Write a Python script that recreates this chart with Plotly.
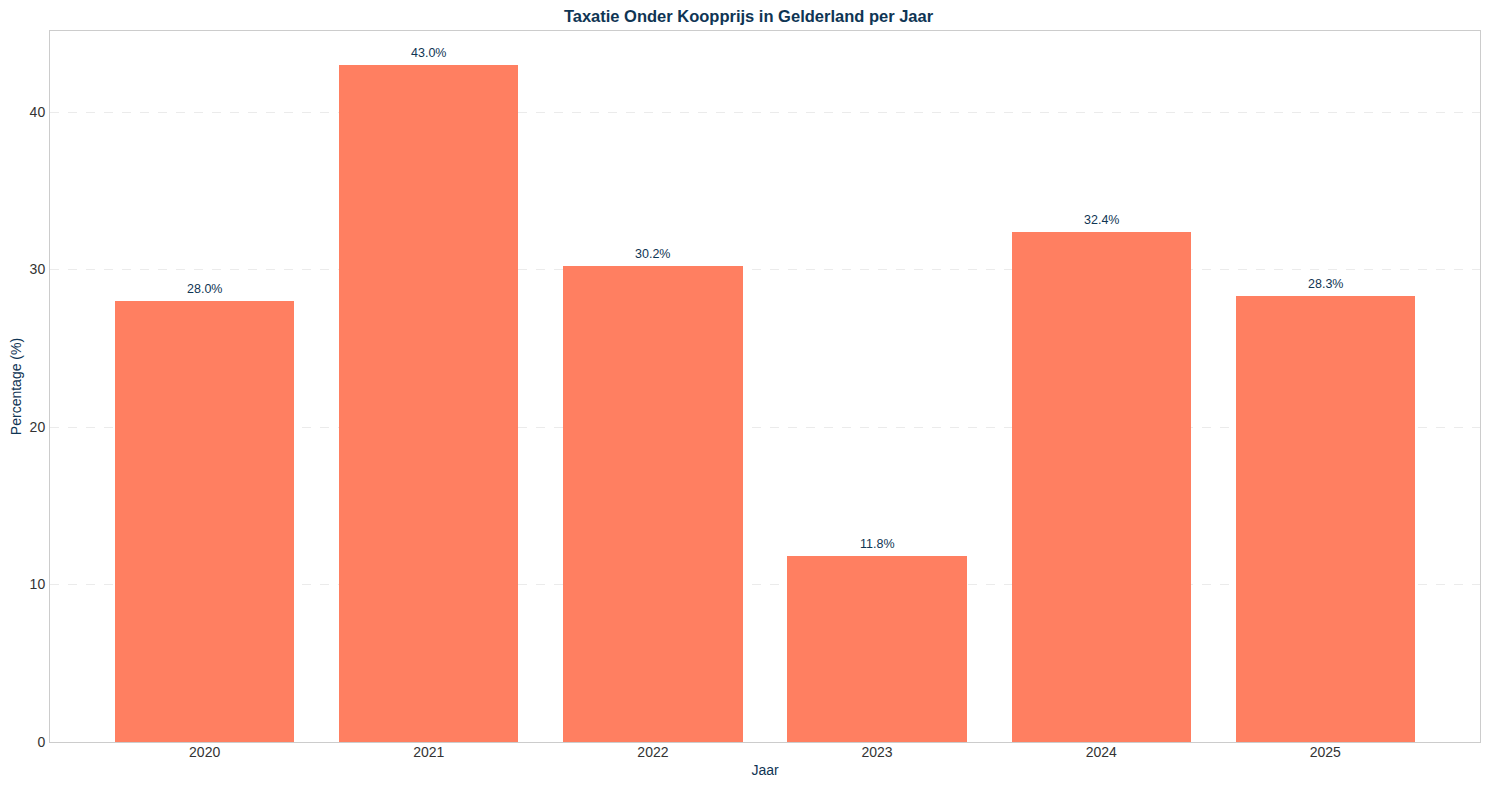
import plotly.graph_objects as go

years = ["2020", "2021", "2022", "2023", "2024", "2025"]
values = [28.0, 43.0, 30.2, 11.8, 32.4, 28.3]
y_ticks = [0, 10, 20, 30, 40]

positions = list(range(len(years)))
label_color = "#0f3554"
font_family = "Liberation Sans, Arial, sans-serif"

W, H = 1481, 782

fig = go.Figure()
fig.add_trace(go.Bar(
    x=positions, y=values, width=0.8,
    marker=dict(color="#FF7F61", line=dict(width=0)),
    hoverinfo="skip",
))

for p, v in zip(positions, values):
    fig.add_annotation(x=p, y=v, text=f"{v:.1f}%", showarrow=False,
                       yanchor="bottom", yshift=3,
                       font=dict(size=12.5, color=label_color, family=font_family))

fig.update_layout(
    width=W, height=H, autosize=False,
    margin=dict(l=42, r=9, t=23, b=48),
    paper_bgcolor="white", plot_bgcolor="white",
    showlegend=False,
    font=dict(family=font_family, size=14, color="#333333"),
    title=dict(text="<b>Taxatie Onder Koopprijs in Gelderland per Jaar</b>",
               x=0.5, xanchor="center", y=1 - 8 / H, yanchor="middle",
               font=dict(size=16.5, color=label_color, family=font_family)),
    bargap=0,
)
fig.update_xaxes(
    range=[-0.69, 5.69], tickmode="array", tickvals=positions, ticktext=years,
    showgrid=False, zeroline=False, automargin=False,
    showline=True, linecolor="#cccccc", linewidth=1, mirror=True,
    ticks="", ticklen=0, ticklabelstandoff=-3,
    title=dict(text="Jaar", font=dict(size=14, color=label_color), standoff=6),
    tickfont=dict(size=14, color="#333333"),
)
fig.update_yaxes(
    range=[0, 45.15], tickmode="array", tickvals=y_ticks,
    showgrid=True, gridcolor="#ebebeb", griddash="dash", gridwidth=1,
    zeroline=False, automargin=False,
    showline=True, linecolor="#cccccc", linewidth=1, mirror=True,
    ticks="", ticklen=0, ticklabelstandoff=1,
    title=dict(text="Percentage (%)", font=dict(size=14, color=label_color), standoff=10),
    tickfont=dict(size=14, color="#333333"),
)

fig.write_html("out.html")
